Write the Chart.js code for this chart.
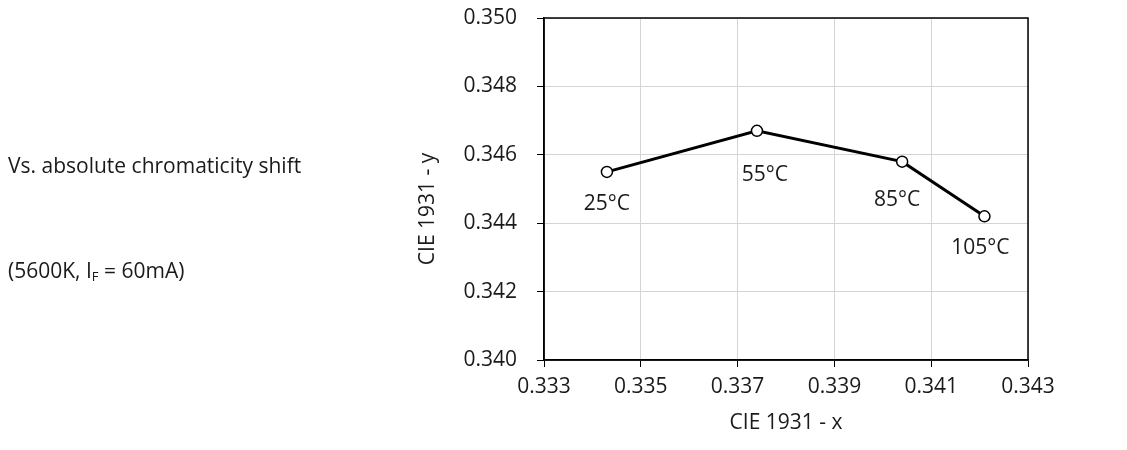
<!DOCTYPE html>
<html>
<head>
<meta charset="utf-8">
<script src="https://cdn.jsdelivr.net/npm/chart.js@4.4.1/dist/chart.umd.min.js"></script>
<style>
  html, body { margin: 0; padding: 0; background: #fff; }
  #wrap { position: relative; width: 1127px; height: 450px; }
  #c { position: absolute; left: 0; top: 0; }
  .side { position: absolute; left: 8px; font-family: "Open Sans", sans-serif; font-size: 21px; line-height: 21px; color: #1a1a1a; white-space: nowrap; }
  .side sub { font-size: 13px; line-height: 0; vertical-align: -3px; }
</style>
</head>
<body>
<div id="wrap">
  <canvas id="c" width="1127" height="450"></canvas>
  <div class="side" style="top:155px">Vs. absolute chromaticity shift</div>
  <div class="side" style="top:260px">(5600K, I<sub>F</sub> = 60mA)</div>
</div>
<script>
// ---- data ----
const temperatures = ['25°C', '55°C', '85°C', '105°C'];
const cieX = [0.3343, 0.3374, 0.3404, 0.3421];
const cieY = [0.3455, 0.3467, 0.3458, 0.3442];
const xTicks = [0.333, 0.335, 0.337, 0.339, 0.341, 0.343];
const yTicks = [0.340, 0.342, 0.344, 0.346, 0.348, 0.350];

// label placement relative to each point (pixels)
const labelOffsets = [[0, 38], [8, 50], [-5, 44], [-4, 38]];

const FONT = '"Open Sans", sans-serif';
const TEXT = '#1a1a1a';

const framePlugin = {
  id: 'frame',
  beforeDatasetsDraw(chart) {
    const {ctx, chartArea: a} = chart;
    ctx.save();
    ctx.strokeStyle = '#000';
    ctx.lineWidth = 1.5;
    ctx.strokeRect(a.left, a.top, a.right - a.left, a.bottom - a.top);
    ctx.restore();
  },
  afterDraw(chart) {
    const {ctx} = chart;
    const xs = chart.scales.x, ys = chart.scales.y;
    ctx.save();
    ctx.font = '21px ' + FONT;
    ctx.fillStyle = TEXT;
    ctx.textAlign = 'center';
    ctx.textBaseline = 'alphabetic';
    temperatures.forEach((t, i) => {
      const px = xs.getPixelForValue(cieX[i]);
      const py = ys.getPixelForValue(cieY[i]);
      ctx.fillText(t, px + labelOffsets[i][0], py + labelOffsets[i][1]);
    });
    // y axis title
    ctx.translate(428, 209);
    ctx.rotate(-Math.PI / 2);
    ctx.textBaseline = 'middle';
    ctx.fillText('CIE 1931 - y', 0, 0);
    ctx.restore();
  }
};

new Chart(document.getElementById('c'), {
  type: 'scatter',
  data: {
    datasets: [{
      data: cieX.map((x, i) => ({x, y: cieY[i]})),
      showLine: true,
      borderColor: '#000',
      borderWidth: 3,
      pointRadius: 5.5,
      pointBorderWidth: 1.5,
      pointBorderColor: '#000',
      pointBackgroundColor: '#fff',
      tension: 0
    }]
  },
  options: {
    responsive: false,
    animation: false,
    devicePixelRatio: 1,
    layout: { padding: { left: 0, right: 99, top: 18, bottom: 0 } },
    plugins: { legend: { display: false }, tooltip: { enabled: false } },
    scales: {
      x: {
        type: 'linear',
        min: 0.333, max: 0.343,
        afterBuildTicks: s => { s.ticks = xTicks.map(v => ({value: v})); },
        afterFit: s => { s.height = 90; s.paddingLeft = 0; s.paddingRight = 0; },
        ticks: {
          padding: 7,
          color: TEXT,
          font: { family: FONT, size: 21 },
          callback: v => v.toFixed(3),
          maxRotation: 0, autoSkip: false
        },
        grid: { color: '#d4d4d4', lineWidth: 1, tickColor: '#000', tickLength: 7, drawTicks: true },
        border: { display: true, color: '#000', width: 1.5 },
        title: { display: true, text: 'CIE 1931 - x', color: TEXT, font: { family: FONT, size: 21 }, padding: { top: 0, bottom: 14 } }
      },
      y: {
        type: 'linear',
        min: 0.340, max: 0.350,
        afterBuildTicks: s => { s.ticks = yTicks.map(v => ({value: v})); },
        afterFit: s => { s.width = 544; s.paddingTop = 0; s.paddingBottom = 0; },
        ticks: {
          padding: 20,
          color: TEXT,
          font: { family: FONT, size: 21 },
          callback: v => v.toFixed(3),
          autoSkip: false
        },
        grid: { color: '#d4d4d4', lineWidth: 1, tickColor: '#000', tickLength: 7, drawTicks: true },
        border: { display: true, color: '#000', width: 1.5 }
      }
    }
  },
  plugins: [framePlugin]
});
</script>
</body>
</html>
